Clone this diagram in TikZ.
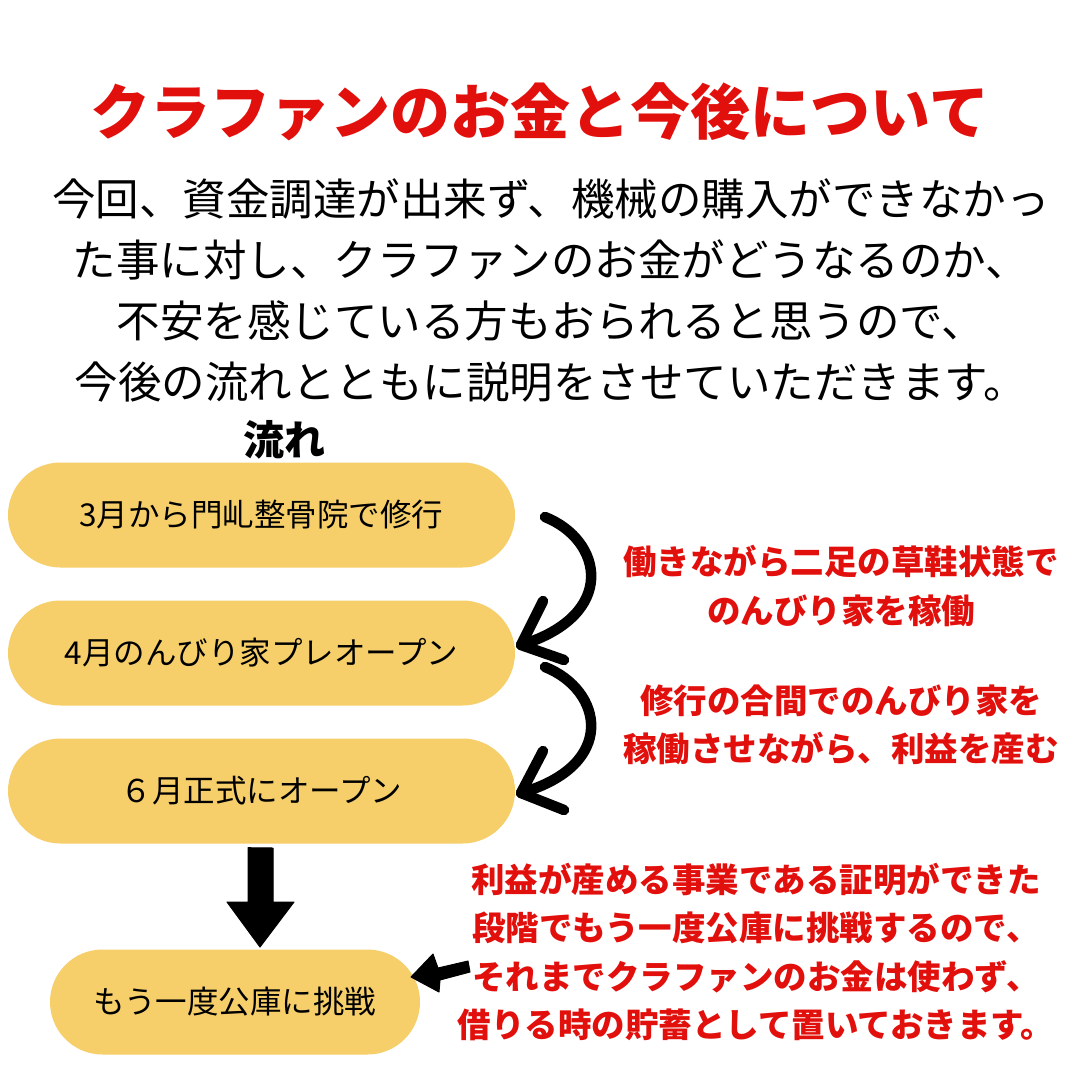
\documentclass[tikz,border=0pt]{standalone}
\usepackage{fontspec}
\setmainfont{Noto Sans CJK JP}
\definecolor{jred}{HTML}{E2100C}
\definecolor{pill}{HTML}{F6CF6A}
\begin{document}
\begin{tikzpicture}[x=1pt,y=-1pt,
  pillbox/.style={fill=pill,rounded corners=52.5pt,minimum width=507pt,minimum height=105pt,inner sep=0pt,font=\fontsize{31.5}{36}\selectfont},
  redtxt/.style={text=jred,font=\fontsize{33.5}{48.5}\selectfont\bfseries,align=center,inner sep=0pt},
  bodytxt/.style={font=\fontsize{43.5}{61}\selectfont,align=center,inner sep=0pt},
  curvy/.style={line width=10.5pt,line cap=round,line join=round},
  blockarrow/.style={fill=black,draw=black,line width=1pt,line join=round}]
\fill[white] (0,0) rectangle (1080,1080);
\useasboundingbox (0,0) rectangle (1080,1080);
% title
\node[text=jred,font=\fontsize{60}{62}\selectfont\bfseries,inner sep=0pt] (title) at (540,112) {クラファンのお金と今後について};
% body
\node[bodytxt] (body) at (551,290) {今回、資金調達が出来ず、機械の購入ができなかっ\\た事に対し、クラファンのお金がどうなるのか、\\不安を感じている方もおられると思うので、\\今後の流れとともに説明をさせていただきます。};
\node[font=\fontsize{41}{44}\selectfont\bfseries,inner sep=0pt] (flow) at (284,440) {流れ};
% pills
\node[pillbox] (p1) at (261.5,515) {3月から門乢整骨院で修行};
\node[pillbox] (p2) at (261.5,653) {4月のんびり家プレオープン};
\node[pillbox] (p3) at (261.5,791) {６月正式にオープン};
\node[pillbox,minimum width=370pt] (p4) at (235,1002) {もう一度公庫に挑戦};
% red texts
\node[redtxt] (r1) at (841,586) {働きながら二足の草鞋状態で\\のんびり家を稼働};
\node[redtxt] (r2) at (841,725) {修行の合間でのんびり家を\\稼働させながら、利益を産む};
\node[redtxt] (r3) at (756,952) {利益が産める事業である証明ができた\\段階でもう一度公庫に挑戦するので、\\それまでクラファンのお金は使わず、\\借りる時の貯蓄として置いておきます。};
% curved arrows
\coordinate (a1s) at (545,517);
\coordinate (a1t) at (521,645);
\coordinate (a1u) at (543,601);
\coordinate (a1l) at (564,660);
\draw[curvy] (a1s) .. controls (603,540) and (618,615) .. (a1t);
\draw[curvy] (a1u) -- (a1t) -- (a1l);
\coordinate (a2s) at (545,667);
\coordinate (a2t) at (521,793);
\coordinate (a2u) at (543,751);
\coordinate (a2l) at (564,810);
\draw[curvy] (a2s) .. controls (603,690) and (618,765) .. (a2t);
\draw[curvy] (a2u) -- (a2t) -- (a2l);
% down block arrow
\draw[blockarrow] (p3.south -| 248,0) ++(0,4) -- (248,902) -- (227,902) -- (260,947) -- (294,902) -- (273,902) -- (273,848) -- cycle;
% left block arrow
\draw[blockarrow] (468,961) -- (438,968) -- (433,954) -- (411,977) -- (439,992) -- (440,980) -- (470,972) -- cycle;
\end{tikzpicture}
\end{document}
